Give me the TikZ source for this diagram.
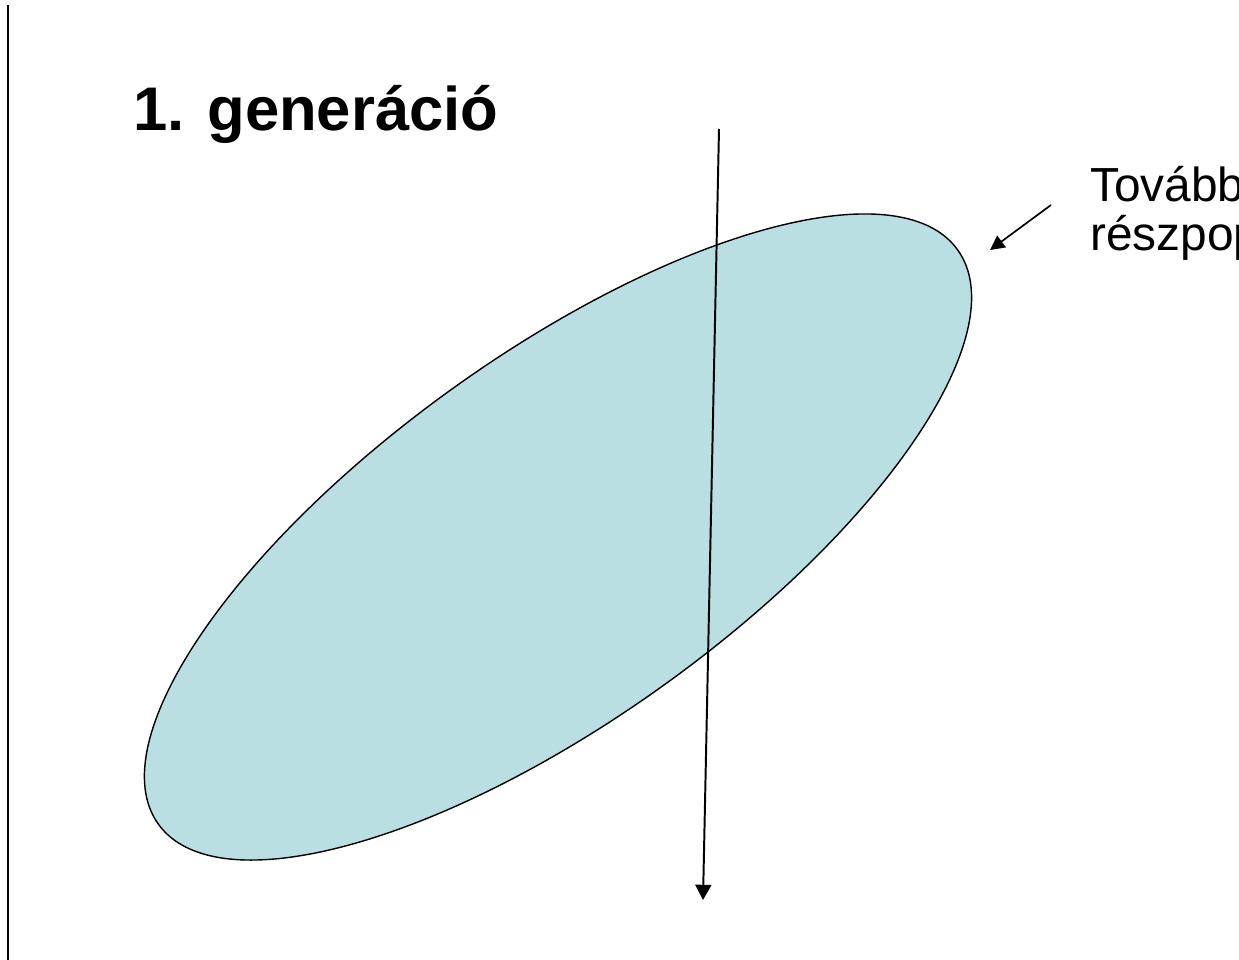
\documentclass[tikz,border=0pt]{standalone}
\usepackage{fontspec}
\setmainfont{Liberation Sans}
\usetikzlibrary{positioning, arrows.meta, shapes.geometric}
\definecolor{popfill}{RGB}{185,223,227}

\begin{document}
\begin{tikzpicture}[x=0.025cm, y=-0.025cm, >={Triangle[width=0.4cm, length=0.38cm]}]
	\useasboundingbox (0,0) rectangle (1239,960);
	% bal oldali elvalaszto vonal
	\coordinate (lt) at (8,5);
	\coordinate (lb) at (8,960);
	\draw[line width=1.4pt] (lt) -- (lb);
	\node[anchor=base west, inner sep=0, font=\fontsize{43.8}{46}\selectfont\bfseries] (gen) at (133,130) {1. generáció};
	\node[ellipse, draw, line width=1pt, fill=popfill, inner sep=0, rotate=35.7,
		minimum width=24.6cm, minimum height=9.1cm] (pop) at (558,537) {};
	\coordinate (top) at (719,129);
	\coordinate (bot) at (703,900);
	\draw[->, line width=1.4pt] (top) -- (bot);
	\node[anchor=base west, inner sep=0, align=left, font=\fontsize{34}{34.5}\selectfont] (tov) at (1090,250) {Tovább\\részpop};
	\coordinate (as) at (1051,205);
	\coordinate (ae) at (990,250);
	\draw[->, line width=1.2pt, >={Triangle[width=0.36cm, length=0.36cm]}] (as) -- (ae);
\end{tikzpicture}
\end{document}
